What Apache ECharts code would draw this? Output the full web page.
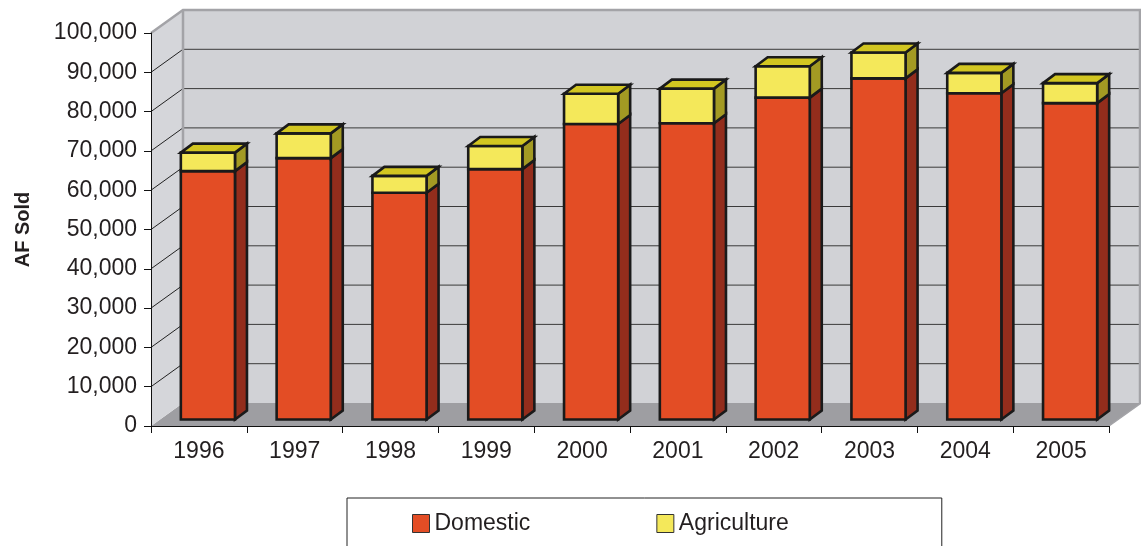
<!DOCTYPE html>
<html>
<head>
<meta charset="utf-8">
<style>
  html, body { margin: 0; padding: 0; background: #fff; }
  #chart { width: 1141px; height: 546px; }
</style>
<script src="https://cdn.jsdelivr.net/npm/echarts@6/dist/echarts.min.js"></script>
</head>
<body>
<div id="chart"></div>
<script>
// Acre-feet sold per year, split by use
const years = ['1996', '1997', '1998', '1999', '2000', '2001', '2002', '2003', '2004', '2005'];
const domestic = [63200, 66500, 57700, 63700, 75200, 75400, 81900, 86800, 83000, 80500];
const agriculture = [4700, 6300, 4300, 5900, 7700, 8800, 8000, 6600, 5200, 5100];
const yMin = 0, yMax = 100000, yStep = 10000;

const FONT = '"Liberation Sans", Arial, Helvetica, sans-serif';
const INK = '#231f20';

// 3D look: wall depth and bar depth, in pixels
const WALL_DX = 32, WALL_DY = -23;
const BAR_FX = 9, BAR_FY = -6.5;   // front face pushed back into the box
const BAR_DX = 12, BAR_DY = -9;    // bar thickness
const BAR_RATIO = 0.565;

const COLORS = {
  domestic: { front: '#e34d25', side: '#932d1c', top: '#c0401f' },
  agriculture: { front: '#f4e85a', side: '#a39a23', top: '#d2c621' }
};

const fmt = v => v.toLocaleString('en-US');

function renderWalls(params, api) {
  const cs = params.coordSys;
  const L = cs.x, R = cs.x + cs.width, T = cs.y, B = cs.y + cs.height;
  const children = [];
  // floor
  children.push({ type: 'polygon', shape: { points: [[L, B], [R, B], [R + WALL_DX, B + WALL_DY], [L + WALL_DX, B + WALL_DY]] },
    style: { fill: '#9e9ea2' } });
  // left side wall
  children.push({ type: 'polygon', shape: { points: [[L, B], [L + WALL_DX, B + WALL_DY], [L + WALL_DX, T + WALL_DY], [L, T]] },
    style: { fill: '#d5d6da' } });
  // back wall
  children.push({ type: 'rect', shape: { x: L + WALL_DX, y: T + WALL_DY, width: R - L, height: B - T },
    style: { fill: '#d1d2d6' } });
  // gridlines on the back wall and on the side wall
  for (let v = yMin + yStep; v < yMax; v += yStep) {
    const y = api.coord([0, v])[1];
    children.push({ type: 'line', shape: { x1: L + WALL_DX, y1: y + WALL_DY, x2: R + WALL_DX, y2: y + WALL_DY },
      style: { stroke: '#3a3a3a', lineWidth: 1 } });
    children.push({ type: 'line', shape: { x1: L, y1: y, x2: L + WALL_DX, y2: y + WALL_DY },
      style: { stroke: '#222', lineWidth: 1 } });
  }
  // wall edges
  const edge = { stroke: '#a3a3a7', lineWidth: 2.5 };
  children.push({ type: 'polyline', shape: { points: [[L, T], [L + WALL_DX, T + WALL_DY], [R + WALL_DX - 1, T + WALL_DY], [R + WALL_DX - 1, B + WALL_DY]] }, style: Object.assign({ fill: null }, edge) });
  children.push({ type: 'line', shape: { x1: L + WALL_DX, y1: T + WALL_DY, x2: L + WALL_DX, y2: B + WALL_DY }, style: edge });
  children.push({ type: 'line', shape: { x1: R, y1: B, x2: R + WALL_DX, y2: B + WALL_DY }, style: { stroke: '#a3a3a7', lineWidth: 1.5 } });
  return { type: 'group', children };
}

function makeBarRenderer(segment) {
  const col = COLORS[segment];
  return function (params, api) {
    const i = api.value(0);
    const d = api.value(1);
    const a = api.value(2);
    const lo = segment === 'domestic' ? 0 : d;
    const hi = segment === 'domestic' ? d : d + a;
    const c0 = api.coord([i, lo]);
    const c1 = api.coord([i, hi]);
    const bw = api.size([1, 0])[0] * BAR_RATIO;
    const x0 = c0[0] - bw / 2 + BAR_FX;
    const x1 = x0 + bw;
    const yb = c0[1] + BAR_FY;
    const yt = c1[1] + BAR_FY;
    const outline = { stroke: '#1a1a1a', lineWidth: 2.6, lineJoin: 'miter' };
    const children = [
      { type: 'polygon', shape: { points: [[x1, yb], [x1 + BAR_DX, yb + BAR_DY], [x1 + BAR_DX, yt + BAR_DY], [x1, yt]] },
        style: Object.assign({ fill: col.side }, outline) },
      { type: 'rect', shape: { x: x0, y: yt, width: bw, height: yb - yt },
        style: Object.assign({ fill: col.front }, outline) }
    ];
    if (segment === 'agriculture') {
      children.push({ type: 'polygon', shape: { points: [[x0, yt], [x0 + BAR_DX, yt + BAR_DY], [x1 + BAR_DX, yt + BAR_DY], [x1, yt]] },
        style: Object.assign({ fill: col.top }, outline) });
    }
    return { type: 'group', children };
  };
}

const barData = years.map((y, i) => [i, domestic[i], agriculture[i]]);

const chart = echarts.init(document.getElementById('chart'), null, { renderer: 'canvas' });
chart.setOption({
  animation: false,
  backgroundColor: '#ffffff',
  grid: { left: 151, right: 32, top: 33, bottom: 120, containLabel: false },
  legend: {
    data: ['Domestic', 'Agriculture'],
    left: 347, top: 498,
    icon: 'rect', itemWidth: 17, itemHeight: 18, itemGap: 126,
    padding: [14, 153, 20, 65],
    borderColor: '#222', borderWidth: 1,
    selectedMode: false,
    itemStyle: { borderColor: '#333', borderWidth: 1 },
    textStyle: { fontSize: 23, fontFamily: FONT, color: INK }
  },
  xAxis: {
    type: 'category', data: years, boundaryGap: true, z: 10,
    axisLine: { lineStyle: { color: '#111', width: 1 } },
    axisTick: { show: true, length: 7, alignWithLabel: false, lineStyle: { color: '#111' } },
    axisLabel: { fontSize: 23, fontFamily: FONT, color: INK, margin: 14 },
    splitLine: { show: false }
  },
  yAxis: {
    type: 'value', min: yMin, max: yMax, interval: yStep, z: 10,
    name: 'AF Sold', nameLocation: 'middle', nameRotate: 90, nameGap: 118,
    nameTextStyle: { fontSize: 20, fontWeight: 'bold', fontFamily: FONT, color: INK },
    axisLine: { show: true, lineStyle: { color: '#111', width: 1 } },
    axisTick: { show: true, length: 7, lineStyle: { color: '#111' } },
    axisLabel: { fontSize: 23, fontFamily: FONT, color: INK, margin: 14, formatter: v => fmt(v) },
    splitLine: { show: false }
  },
  series: [
    { name: 'walls', type: 'custom', z: 1, silent: true, renderItem: renderWalls, data: [[0, 0]], encode: { x: 0, y: 1 } },
    { name: 'Domestic', type: 'custom', z: 2, renderItem: makeBarRenderer('domestic'),
      itemStyle: { color: COLORS.domestic.front }, data: barData, encode: { x: 0, y: 1 } },
    { name: 'Agriculture', type: 'custom', z: 3, renderItem: makeBarRenderer('agriculture'),
      itemStyle: { color: COLORS.agriculture.front }, data: barData, encode: { x: 0, y: 1 } }
  ]
});
</script>
</body>
</html>
